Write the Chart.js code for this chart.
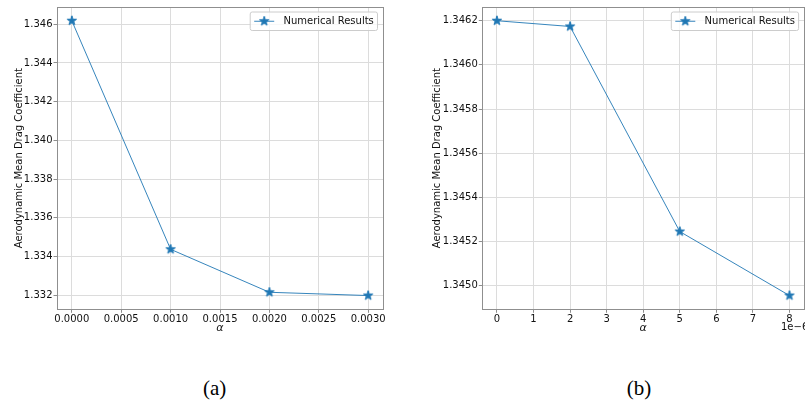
<!DOCTYPE html>
<html><head><meta charset="utf-8">
<script src="https://cdn.jsdelivr.net/npm/chart.js@4.4.1/dist/chart.umd.min.js"></script>
<style>
html,body{margin:0;padding:0;background:#fff;width:805px;height:402px;overflow:hidden;position:relative;}
canvas{position:absolute;top:0;}
.cap{position:absolute;top:375px;font-family:'Liberation Serif','Times New Roman',serif;font-size:21px;line-height:26px;color:#000;transform:translateX(-50%);white-space:nowrap;}
#off{position:absolute;left:781px;top:321px;font-family:'DejaVu Sans';font-size:10px;line-height:12px;color:#111;white-space:nowrap;}
</style></head><body>
<canvas id="ca" width="400" height="340" style="left:0"></canvas>
<canvas id="cb" width="410" height="340" style="left:400px"></canvas>
<div class="cap" style="left:214.7px">(a)</div>
<div class="cap" style="left:639px">(b)</div>
<div id="off">1e−6</div>
<script>
// ---- data ----
const seriesLabel = 'Numerical Results';
const yTitle = 'Aerodynamic Mean Drag Coefficient';
const xTitle = 'α';
const alphaA = [0, 0.001, 0.002, 0.003];
const cdA = [1.34618, 1.33437, 1.33215, 1.33198];
const alphaB = [0, 2, 5, 8];            // in units of 1e-6
const cdB = [1.34620, 1.346174, 1.345245, 1.344955];
const xTicksA = [0, 0.0005, 0.001, 0.0015, 0.002, 0.0025, 0.003];
const yTicksA = [1.332, 1.334, 1.336, 1.338, 1.340, 1.342, 1.344, 1.346];
const xTicksB = [0, 1, 2, 3, 4, 5, 6, 7, 8];
const yTicksB = [1.3450, 1.3452, 1.3454, 1.3456, 1.3458, 1.3460, 1.3462];

// ---- style helpers ----
const BLUE = '#1f77b4';
function makeStar(r){
  const s = 14, c = document.createElement('canvas'); c.width = s; c.height = s;
  const g = c.getContext('2d'), cx = s/2, cy = s/2, ri = r*0.381966;
  g.beginPath();
  for (let i = 0; i < 10; i++){
    const a = -Math.PI/2 + i*Math.PI/5, rr = (i % 2) ? ri : r;
    g.lineTo(cx + rr*Math.cos(a), cy + rr*Math.sin(a));
  }
  g.closePath(); g.fillStyle = BLUE; g.fill();
  g.lineWidth = 1; g.strokeStyle = BLUE; g.lineJoin = 'miter'; g.stroke();
  return c;
}
const star = makeStar(5);

const mplPlugin = {
  id: 'mpl',
  afterDraw(chart){
    const {ctx, chartArea: a} = chart;
    ctx.save();
    // axes frame
    ctx.strokeStyle = '#8f8f8f'; ctx.lineWidth = 1;
    ctx.strokeRect(Math.round(a.left) + 0.5, Math.round(a.top) + 0.5,
                   Math.round(a.right) - Math.round(a.left), Math.round(a.bottom) - Math.round(a.top));
    // legend
    const label = chart.data.datasets[0].label;
    ctx.font = '10px "DejaVu Sans"';
    const tw = ctx.measureText(label).width;
    const right = a.right - 5.5, top = a.top + 5, h = 18.5;
    const textX = right - 3.7 - tw;
    const sx = textX - 19.3;
    const left = sx - 14;
    const rr = 2;
    ctx.beginPath();
    ctx.moveTo(left + rr, top); ctx.lineTo(right - rr, top); ctx.quadraticCurveTo(right, top, right, top + rr);
    ctx.lineTo(right, top + h - rr); ctx.quadraticCurveTo(right, top + h, right - rr, top + h);
    ctx.lineTo(left + rr, top + h); ctx.quadraticCurveTo(left, top + h, left, top + h - rr);
    ctx.lineTo(left, top + rr); ctx.quadraticCurveTo(left, top, left + rr, top); ctx.closePath();
    ctx.fillStyle = 'rgba(255,255,255,0.8)'; ctx.fill();
    ctx.strokeStyle = '#cccccc'; ctx.lineWidth = 1; ctx.stroke();
    const cy = top + h/2;
    ctx.beginPath(); ctx.moveTo(sx - 10, cy); ctx.lineTo(sx + 10, cy);
    ctx.strokeStyle = BLUE; ctx.lineWidth = 0.9; ctx.stroke();
    ctx.drawImage(star, sx - star.width/2, cy - star.height/2);
    ctx.fillStyle = '#111'; ctx.textBaseline = 'middle'; ctx.textAlign = 'left';
    ctx.fillText(label, textX, cy + 0.5);
    ctx.restore();
  }
};

function margin(arr){ const lo = Math.min(...arr), hi = Math.max(...arr), p = 0.05*(hi - lo); return [lo - p, hi + p]; }

function build(id, xs, ys, xTicks, yTicks, xFmt, yFmt, yAxisW, yTitlePad, padRight){
  const [xmin, xmax] = margin(xs), [ymin, ymax] = margin(ys);
  const font = {family: 'DejaVu Sans', size: 10};
  return new Chart(document.getElementById(id), {
    type: 'line',
    data: { datasets: [{
      label: seriesLabel,
      data: xs.map((x, i) => ({x, y: ys[i]})),
      borderColor: BLUE, backgroundColor: BLUE, borderWidth: 0.9, tension: 0,
      pointStyle: star, pointRadius: 5, pointHoverRadius: 5, fill: false
    }]},
    options: {
      responsive: false, animation: false, devicePixelRatio: 1,
      layout: { padding: {top: 6, right: padRight, left: 0, bottom: 0} },
      plugins: { legend: {display: false}, tooltip: {enabled: false} },
      events: [],
      scales: {
        x: {
          type: 'linear', min: xmin, max: xmax,
          afterBuildTicks: s => { s.ticks = xTicks.map(v => ({value: v})); },
          afterFit: s => { s.height = 30.7; },
          grid: {color: '#dcdcdc', lineWidth: 1, drawTicks: true, tickLength: 3.5, tickColor: '#8f8f8f', tickWidth: 1},
          border: {display: false},
          ticks: {font, color: '#111', padding: 1, maxRotation: 0, autoSkip: false, callback: v => xFmt(v)},
          title: {display: true, text: xTitle, font: {family: 'DejaVu Sans', size: 11, style: 'italic'}, color: '#111', padding: {top: 0, bottom: 5.5}}
        },
        y: {
          type: 'linear', min: ymin, max: ymax,
          afterBuildTicks: s => { s.ticks = yTicks.map(v => ({value: v})); },
          afterFit: s => { s.width = yAxisW; },
          grid: {color: '#dcdcdc', lineWidth: 1, drawTicks: true, tickLength: 3.5, tickColor: '#8f8f8f', tickWidth: 1},
          border: {display: false},
          ticks: {font, color: '#111', padding: 1, autoSkip: false, callback: v => yFmt(v)},
          title: {display: true, text: yTitle, font, color: '#111', padding: {top: yTitlePad, bottom: 0}}
        }
      }
    },
    plugins: [mplPlugin]
  });
}

build('ca', alphaA, cdA, xTicksA, yTicksA, v => v.toFixed(4), v => v.toFixed(3), 57, 13, 17);
build('cb', alphaB, cdB, xTicksB, yTicksB, v => String(Math.round(v)), v => v.toFixed(4), 82.3, 31, 1.7);
</script>
</body></html>
